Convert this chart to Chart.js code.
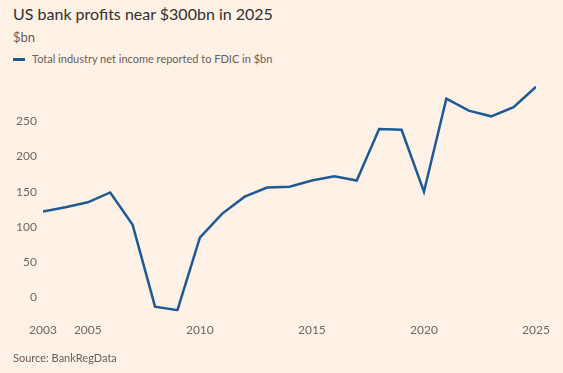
<!DOCTYPE html>
<html>
<head>
<meta charset="utf-8">
<script src="https://cdn.jsdelivr.net/npm/chart.js@4"></script>
<style>
    html, body { margin: 0; padding: 0; background: #FFF1E5; }
    body { width: 563px; height: 373px; position: relative; overflow: hidden; font-family: 'Lato', 'Open Sans', sans-serif; }
    .title { position: absolute; left: 13px; top: 4px; font-size: 16px; color: #33302E; }
    .unit { position: absolute; left: 13px; top: 29px; font-size: 13px; color: #66605C; }
    .legend { position: absolute; left: 13px; top: 52px; font-size: 11px; color: #66605C; }
    .legend .swatch { display: inline-block; width: 12px; height: 3px; background: #1D5A96; vertical-align: middle; margin-right: 7px; margin-top: -2px; }
    .source { position: absolute; left: 13px; top: 351px; font-size: 11px; color: #66605C; }
    .wrap { position: absolute; left: 0; top: 70px; width: 563px; height: 292px; }
</style>
</head>
<body>
<div class="title">US bank profits near $300bn in 2025</div>
<div class="unit">$bn</div>
<div class="legend"><span class="swatch"></span>Total industry net income reported to FDIC in $bn</div>
<div class="wrap"><canvas id="chart"></canvas></div>
<div class="source">Source: BankRegData</div>
<script>
const years = [2003, 2004, 2005, 2006, 2007, 2008, 2009, 2010, 2011, 2012, 2013, 2014,
    2015, 2016, 2017, 2018, 2019, 2020, 2021, 2022, 2023, 2024, 2025];
const netIncome = [122, 128, 135, 149, 103, -13, -18, 85, 119, 143, 156, 157,
    166, 172, 166, 239, 238, 150, 282, 265, 257, 270, 299];
const xTicks = [2003, 2005, 2010, 2015, 2020, 2025];
const yTicks = [0, 50, 100, 150, 200, 250];

const tickFont = { size: 12, family: "'Lato', 'Open Sans', sans-serif" };

new Chart(document.getElementById('chart'), {
    type: 'line',
    data: {
        datasets: [{
            label: 'Total industry net income reported to FDIC in $bn',
            data: years.map((y, i) => ({ x: y, y: netIncome[i] })),
            borderColor: '#1D5A96',
            borderWidth: 2.5,
            pointRadius: 0,
            tension: 0,
            fill: false
        }]
    },
    options: {
        responsive: true,
        maintainAspectRatio: false,
        animation: false,
        plugins: {
            legend: { display: false },
            tooltip: { enabled: false }
        },
        layout: {
            padding: { left: 0, right: 27, top: 16, bottom: 14 }
        },
        scales: {
            x: {
                type: 'linear',
                min: 2003,
                max: 2025,
                afterBuildTicks: axis => { axis.ticks = xTicks.map(v => ({ value: v })); },
                grid: { display: false, drawTicks: false },
                border: { display: false },
                ticks: {
                    font: tickFont,
                    color: '#6F6964',
                    padding: 11,
                    maxRotation: 0,
                    callback: v => String(v)
                }
            },
            y: {
                min: -20,
                max: 300,
                afterBuildTicks: axis => { axis.ticks = yTicks.map(v => ({ value: v })); },
                afterFit: axis => { axis.width = 43; },
                grid: { display: false, drawTicks: false },
                border: { display: false },
                ticks: {
                    font: tickFont,
                    color: '#6F6964',
                    padding: 6
                }
            }
        }
    }
});
</script>
</body>
</html>
